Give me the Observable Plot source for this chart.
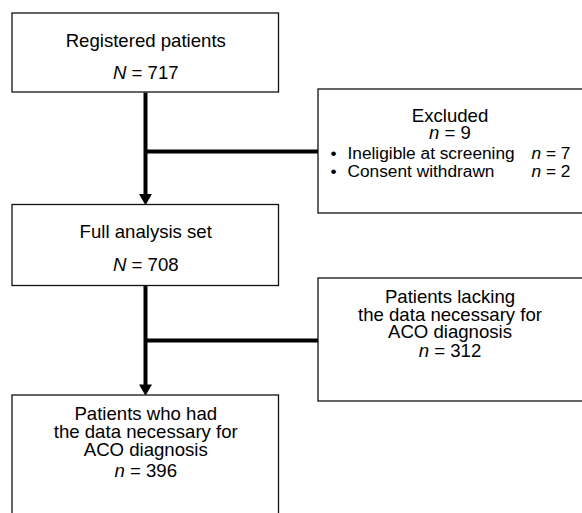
<!DOCTYPE html>
<html>
<head>
<meta charset="utf-8">
<script src="https://cdn.jsdelivr.net/npm/d3@7"></script>
<script src="https://cdn.jsdelivr.net/npm/@observablehq/plot@0.6"></script>
<style>
  html, body { margin: 0; padding: 0; background: #fff; overflow: hidden; }
  svg { display: block; }
</style>
</head>
<body>
<div id="chart"></div>
<script>
const stageLabels = [
  ["Registered patients"],
  ["Full analysis set"],
  ["Patients who had", "the data necessary for", "ACO diagnosis"]
];
const stageSymbols = ["N", "N", "n"];
const stageCounts = [717, 708, 396];

const exclusionLabels = [
  ["Excluded"],
  ["Patients lacking", "the data necessary for", "ACO diagnosis"]
];
const exclusionCounts = [9, 312];

const reasonLabels = ["Ineligible at screening", "Consent withdrawn"];
const reasonCounts = [7, 2];

// ---- Layout (pixel frame of the picture) ----
const W = 582, H = 513;
const stageBoxes = [
  {x1: 12, x2: 278.5, y1: 13, y2: 92},
  {x1: 12, x2: 278.5, y1: 204.5, y2: 285.5},
  {x1: 12, x2: 278.5, y1: 395, y2: 540}
];
const exclusionBoxes = [
  {x1: 318, x2: 600, y1: 89, y2: 213},
  {x1: 318, x2: 600, y1: 278, y2: 401}
];
const stageLineY = [[41, 72.5], [231.5, 265], [413.5, 431.5, 449.5, 471]];
const exclusionLineY = [[116, 133], [296.5, 314.5, 332, 351]];
const reasonLineY = [152.5, 171];
const spineX = 145;
const branchY = [151, 340];

// Build tables for marks
const boxes = [...stageBoxes, ...exclusionBoxes];
const texts = [];
stageLabels.forEach((lines, i) => {
  const cx = (stageBoxes[i].x1 + stageBoxes[i].x2) / 2;
  lines.forEach((t, j) => texts.push({x: cx, y: stageLineY[i][j], text: t}));
  texts.push({x: cx, y: stageLineY[i][lines.length], text: `${stageSymbols[i]} = ${stageCounts[i]}`});
});
exclusionLabels.forEach((lines, i) => {
  const cx = (318 + 581) / 2;
  lines.forEach((t, j) => texts.push({x: cx, y: exclusionLineY[i][j], text: t}));
  texts.push({x: cx, y: exclusionLineY[i][lines.length], text: `n = ${exclusionCounts[i]}`});
});
const bullets = reasonLabels.map((t, i) => ({y: reasonLineY[i], text: t, n: `n = ${reasonCounts[i]}`}));

const spines = [
  {x1: spineX, y1: stageBoxes[0].y2, x2: spineX, y2: stageBoxes[1].y1 - 8},
  {x1: spineX, y1: stageBoxes[1].y2, x2: spineX, y2: stageBoxes[2].y1 - 8}
];
const branches = branchY.map((y, i) => ({x1: spineX, y1: y, x2: exclusionBoxes[i].x1, y2: y}));
const heads = [
  {x: spineX, y: stageBoxes[1].y1 - 7.3},
  {x: spineX, y: stageBoxes[2].y1 - 7.3}
];

const font = "'Liberation Sans', Arial, Helvetica, sans-serif";

const plot = Plot.plot({
  width: W,
  height: H,
  margin: 0,
  x: {domain: [0, W], range: [0, W], axis: null},
  y: {domain: [0, H], range: [0, H], axis: null},
  style: {fontFamily: font, background: "#fff"},
  marks: [
    Plot.link([...spines, ...branches], {x1: "x1", y1: "y1", x2: "x2", y2: "y2", stroke: "#000", strokeWidth: 4}),
    Plot.dot(heads, {x: "x", y: "y", symbol: "triangle", rotate: 180, r: 4.8, fill: "#000", stroke: null}),
    Plot.rect(boxes, {x1: "x1", x2: "x2", y1: "y1", y2: "y2", fill: "#fff", stroke: "#111", strokeWidth: 1.3, clip: true}),
    Plot.text(texts, {x: "x", y: "y", text: "text", fontSize: 18.6, fill: "#000", textAnchor: "middle"}),
    Plot.text(bullets, {x: 333, y: "y", text: () => "•", fontSize: 17.3, fill: "#000", textAnchor: "middle"}),
    Plot.text(bullets, {x: 347, y: "y", text: "text", fontSize: 17.3, fill: "#000", textAnchor: "start"}),
    Plot.text(bullets, {x: 531, y: "y", text: "n", fontSize: 17.3, fill: "#000", textAnchor: "start"})
  ]
});

// Italicise the N / n symbol in count lines
plot.querySelectorAll("text, tspan").forEach(el => {
  if (el.children.length) return;
  const m = /^([Nn]) = (\d+)$/.exec(el.textContent);
  if (!m) return;
  el.textContent = "";
  const ns = "http://www.w3.org/2000/svg";
  const a = document.createElementNS(ns, "tspan");
  a.setAttribute("font-style", "italic");
  a.textContent = m[1];
  const b = document.createElementNS(ns, "tspan");
  b.textContent = " = " + m[2];
  el.appendChild(a);
  el.appendChild(b);
});

document.getElementById("chart").appendChild(plot);
</script>
</body>
</html>
